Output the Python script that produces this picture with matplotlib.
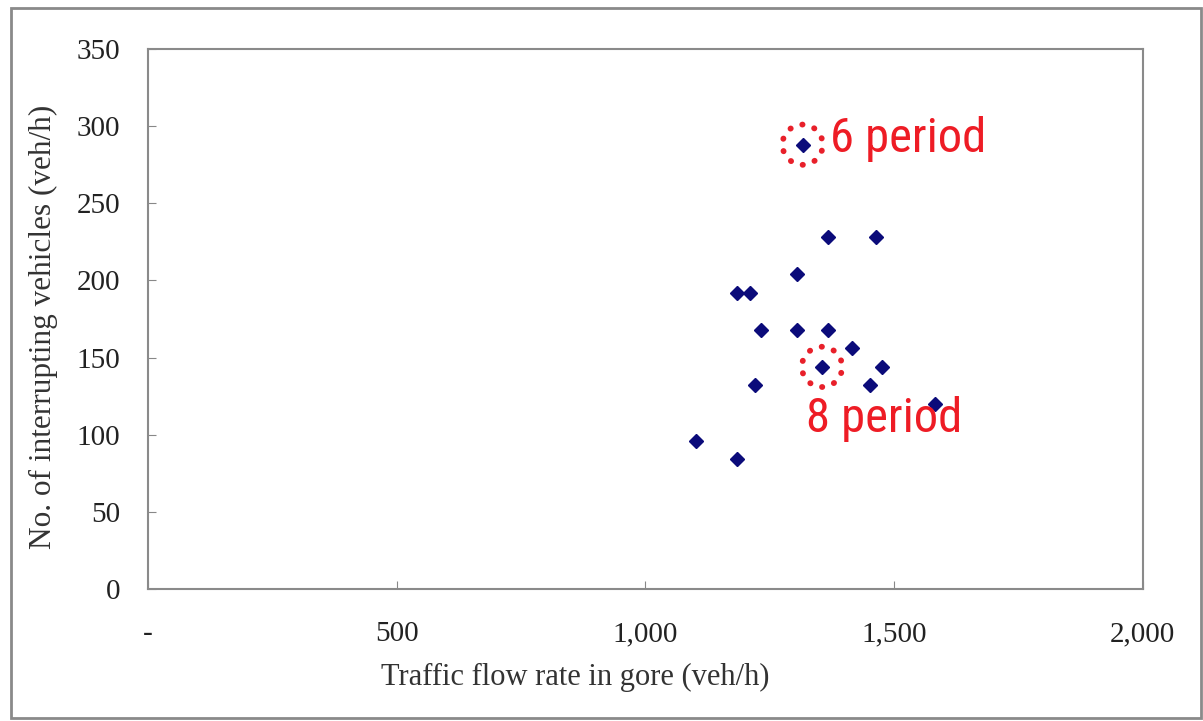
import numpy as np
import matplotlib.pyplot as plt
from matplotlib.patches import Rectangle
from matplotlib.ticker import FuncFormatter

# traffic flow rate in gore (veh/h) vs interrupting vehicles (veh/h)
flow = [1316, 1367, 1463, 1304, 1184, 1210, 1232, 1304, 1367, 1415,
        1355, 1475, 1220, 1451, 1582, 1101, 1184]
interrupt = [288, 228, 228, 204, 192, 192, 168, 168, 168, 156,
             144, 144, 132, 132, 120, 96, 84]

marked = [0, 10]  # 6 period, 8 period
marked_labels = ['6 period', '8 period']

plt.rcParams['font.family'] = ['Liberation Serif', 'DejaVu Serif']

fig = plt.figure(figsize=(12.03, 7.21), dpi=100)
ax = fig.add_axes([0.123, 0.183, 0.827, 0.749])

ax.plot(flow, interrupt, 'D', color='#0b0b7a', markersize=7, linestyle='none')

mx = [flow[i] for i in marked]
my = [interrupt[i] for i in marked]
circ = ax.scatter(mx, my, s=840, facecolors='none', edgecolors='#e8202a',
                  linewidths=4.2, linestyle=(0, (0.05, 2.12)))
circ.set_capstyle('round')

lab_font = ['Roboto Condensed', 'Liberation Sans Narrow', 'Roboto', 'DejaVu Sans']
ax.text(1372, 292, marked_labels[0], color='#ee1c25', fontsize=35,
        family=lab_font, va='center', ha='left')
ax.text(1322, 110, marked_labels[1], color='#ee1c25', fontsize=35,
        family=lab_font, va='center', ha='left')

ax.set_xlim(0, 2000)
ax.set_ylim(0, 350)
ax.set_xticks([0, 500, 1000, 1500, 2000])
ax.set_yticks(np.arange(0, 351, 50))
ax.xaxis.set_major_formatter(FuncFormatter(lambda v, p: '-' if v == 0 else '{:,.0f}'.format(v)))
ax.tick_params(direction='in', length=6, color='#888888', labelsize=21, labelcolor='#222222')
ax.tick_params(axis='x', pad=23)
ax.tick_params(axis='y', pad=20)
for s in ax.spines.values():
    s.set_color('#8a8a8a')
    s.set_linewidth(1.5)

fig.text(0.036, 0.546, 'No. of interrupting vehicles (veh/h)', fontsize=22.5,
         color='#333333', rotation=90, ha='center', va='center')
fig.text(0.478, 0.06, 'Traffic flow rate in gore (veh/h)', fontsize=22,
         color='#333333', ha='center', va='center')

# outer frame
fig.patches.append(Rectangle((0.009, 0.004), 0.989, 0.985, transform=fig.transFigure,
                             fill=False, edgecolor='#8a8a8a', linewidth=2))

fig.savefig('out.png', dpi=100)
